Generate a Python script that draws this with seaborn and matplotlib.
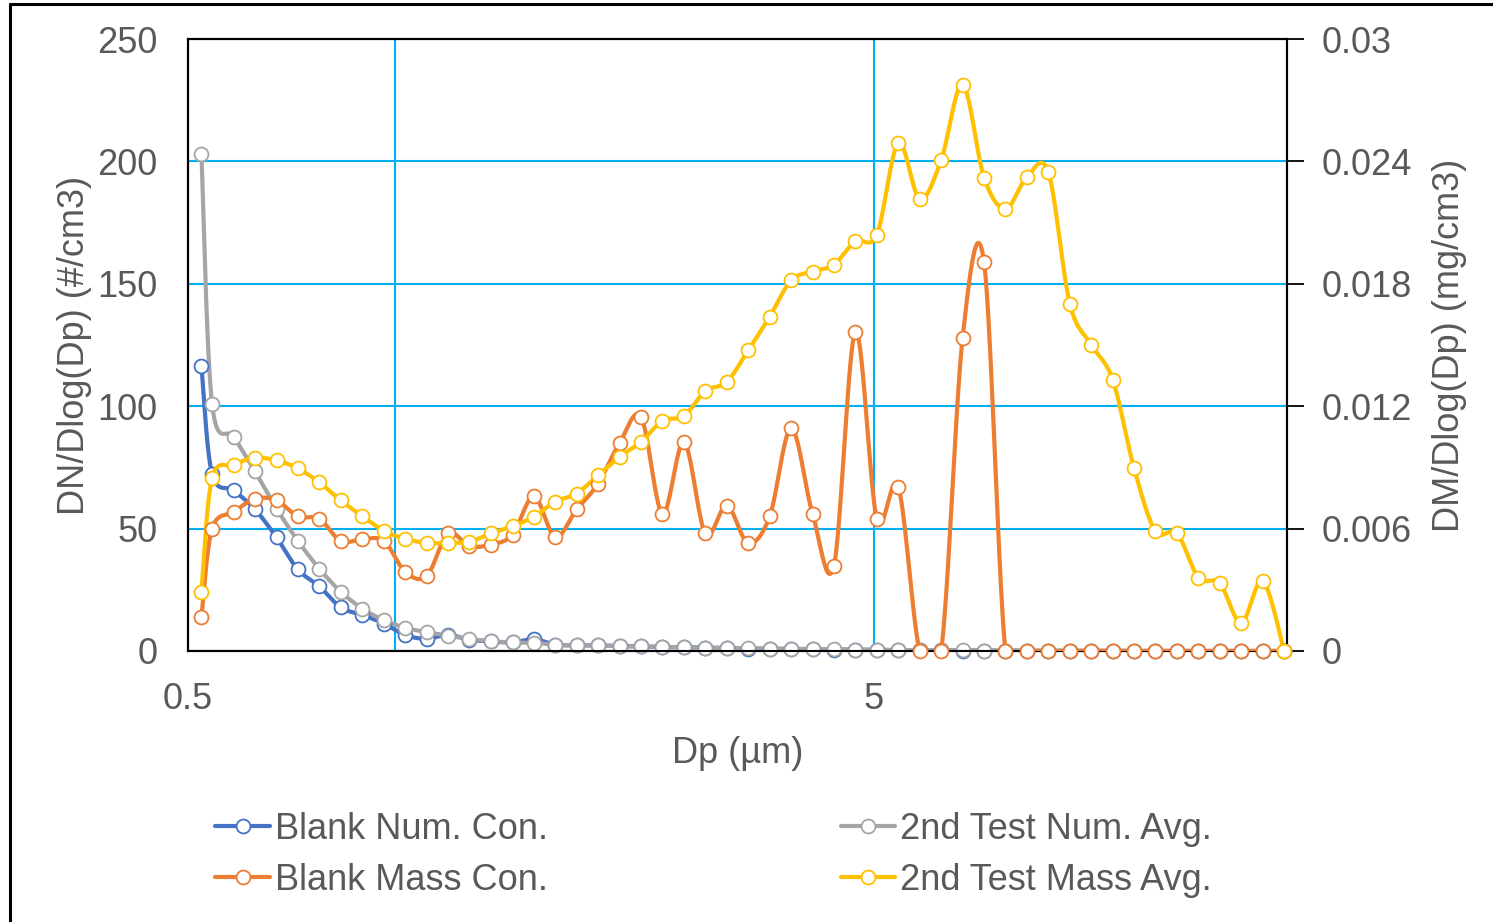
import numpy as np
import pandas as pd
import matplotlib
matplotlib.use("Agg")
import matplotlib.pyplot as plt
from matplotlib.lines import Line2D
import seaborn as sns

# APS channel midpoints (µm)
dp = [0.523, 0.542, 0.583, 0.626, 0.673, 0.723, 0.777, 0.835, 0.898, 0.965,
      1.037, 1.114, 1.197, 1.286, 1.382, 1.486, 1.596, 1.715, 1.843, 1.981,
      2.129, 2.288, 2.458, 2.642, 2.839, 3.051, 3.278, 3.523, 3.786, 4.068,
      4.371, 4.698, 5.048, 5.425, 5.829, 6.264, 6.732, 7.234, 7.774, 8.354,
      8.977, 9.647, 10.37, 11.14, 11.97, 12.86, 13.82, 14.86, 15.96, 17.15,
      18.43, 19.81]

# Number concentration, #/cm3
blank_num = [116.4, 72.3, 65.6, 57.9, 46.4, 33.3, 26.4, 17.8, 14.7, 11.2,
             6.5, 5.0, 6.6, 4.6, 3.9, 3.5, 4.8, 2.6, 2.3, 2.3,
             2.0, 1.9, 1.6, 1.6, 1.4, 1.2, 1.0, 0.9, 0.8, 0.7,
             0.6, 0.5, 0.4, 0.3, 0.3, 0.25, 0.2, 0.2, 0.15, 0.1,
             0.1, 0.08, 0.06, 0.05, 0.04, 0.03, 0.02, 0.02, 0.01, 0.01,
             0.01, 0.0]
test_num = [203.2, 101.0, 87.5, 73.4, 58.2, 45.0, 33.6, 24.2, 17.3, 12.6,
            9.5, 7.7, 6.3, 4.9, 4.0, 3.5, 3.3, 2.6, 2.3, 2.3,
            1.9, 1.9, 1.6, 1.6, 1.3, 1.2, 1.1, 1.0, 0.9, 0.8,
            0.7, 0.6, 0.5, 0.4, 0.35, 0.3, 0.25, 0.2, 0.15, 0.12,
            0.1, 0.08, 0.06, 0.05, 0.04, 0.03, 0.02, 0.02, 0.01, 0.01,
            0.01, 0.0]

# Mass concentration, mg/cm3
blank_mass = [0.00166, 0.00599, 0.00682, 0.00746, 0.00739, 0.00660, 0.00648, 0.00539, 0.00548, 0.00539,
              0.00388, 0.00367, 0.00576, 0.00514, 0.00522, 0.00570, 0.00758, 0.00559, 0.00694, 0.00821,
              0.01020, 0.01147, 0.00673, 0.01024, 0.00576, 0.00713, 0.00529, 0.00660, 0.01091, 0.00673,
              0.00419, 0.01564, 0.00649, 0.00804, 0.0, 0.0, 0.01535, 0.01906, 0.0, 0.0,
              0.0, 0.0, 0.0, 0.0, 0.0, 0.0, 0.0, 0.0, 0.0, 0.0,
              0.0, 0.0]
test_mass = [0.00290, 0.00847, 0.00912, 0.00947, 0.00934, 0.00895, 0.00826, 0.00738, 0.00660, 0.00589,
             0.00550, 0.00530, 0.00530, 0.00536, 0.00576, 0.00612, 0.00658, 0.00732, 0.00772, 0.00862,
             0.00952, 0.01025, 0.01128, 0.01152, 0.01274, 0.01320, 0.01474, 0.01639, 0.01817, 0.01860,
             0.01894, 0.02009, 0.02041, 0.02491, 0.02215, 0.02406, 0.02776, 0.02321, 0.02168, 0.02324,
             0.02347, 0.01703, 0.01501, 0.01330, 0.00896, 0.00587, 0.00578, 0.00359, 0.00332, 0.00138,
             0.00344, 0.0]

labels = ["Blank Num. Con.", "Blank Mass Con.", "2nd Test Num. Avg.", "2nd Test Mass Avg."]
colors = {"Blank Num. Con.": "#4472C4", "Blank Mass Con.": "#ED7D31",
          "2nd Test Num. Avg.": "#A5A5A5", "2nd Test Mass Avg.": "#FFC000"}

left_ticks = [0, 50, 100, 150, 200, 250]
right_ticks = [0, 0.006, 0.012, 0.018, 0.024, 0.03]
right_ticklabels = ["0", "0.006", "0.012", "0.018", "0.024", "0.03"]

TXT = "#595959"
GRID = "#00B0F0"


def smooth(x, y, n=24):
    """Catmull-Rom curve through the points, in log-x space."""
    lx = np.log10(np.asarray(x, float))
    yy = np.asarray(y, float)
    P = np.column_stack([lx, yy])
    P = np.vstack([P[0], P, P[-1]])
    out = []
    t = np.linspace(0, 1, n, endpoint=False)[:, None]
    for i in range(1, len(P) - 2):
        p0, p1, p2, p3 = P[i - 1], P[i], P[i + 1], P[i + 2]
        c1 = p1 + (p2 - p0) / 6.0
        c2 = p2 - (p3 - p1) / 6.0
        seg = ((1 - t) ** 3) * p1 + 3 * ((1 - t) ** 2) * t * c1 + 3 * (1 - t) * t ** 2 * c2 + t ** 3 * p2
        out.append(seg)
    out.append(P[-2][None, :])
    out = np.vstack(out)
    return pd.DataFrame({"x": 10 ** out[:, 0], "y": out[:, 1]})


sns.set_theme(style="white")
plt.rcParams["font.family"] = ["Liberation Sans", "DejaVu Sans"]

fig = plt.figure(figsize=(14.93, 9.22), dpi=100)
W, H = 1493, 922
ax = fig.add_axes([188 / W, 1 - 651 / H, (1287 - 188) / W, (651 - 39) / H])
ax2 = ax.twinx()

FS = 26
LW = 3.0
MS = 10
MEW = 1.3

series_left = [("Blank Num. Con.", blank_num), ("2nd Test Num. Avg.", test_num)]
series_right = [("Blank Mass Con.", blank_mass), ("2nd Test Mass Avg.", test_mass)]

for target, group in [(ax, series_left), (ax2, series_right)]:
    for name, vals in group:
        c = colors[name]
        curve = smooth(dp, vals)
        sns.lineplot(data=curve, x="x", y="y", ax=target, color=c, lw=LW,
                     sort=False, estimator=None, legend=False, zorder=3)
        pts = pd.DataFrame({"x": dp, "y": vals})
        target.plot(pts["x"], pts["y"], ls="none", marker="o", ms=MS,
                    mfc="white", mec=c, mew=MEW, zorder=4, clip_on=False)

for a in (ax, ax2):
    a.set_xscale("log")
    a.set_xlim(0.5, 20)

ax.set_ylim(0, 250)
ax2.set_ylim(0, 0.03)
ax.set_yticks(left_ticks)
ax.set_yticklabels([str(v) for v in left_ticks])
ax2.set_yticks(right_ticks)
ax2.set_yticklabels(right_ticklabels)

ax.set_xticks([0.5, 5])
ax.set_xticklabels(["0.5", "5"])
ax.set_xticks([1], minor=True)
ax.xaxis.set_minor_formatter(plt.NullFormatter())

ax.grid(True, which="both", axis="x", color=GRID, lw=1.5)
ax.grid(True, which="major", axis="y", color=GRID, lw=1.5)
ax.set_axisbelow(True)
ax2.grid(False)

ax.tick_params(axis="y", length=0, pad=22, labelsize=FS, labelcolor=TXT)
ax.tick_params(axis="x", which="both", length=0, pad=22, labelsize=FS, labelcolor=TXT)
ax2.tick_params(axis="y", length=12, width=1.3, color="black", direction="out",
                pad=13, labelsize=FS, labelcolor=TXT, right=True)

for a in (ax, ax2):
    for s in a.spines.values():
        s.set_color("black")
        s.set_linewidth(1.5)
        s.set_visible(True)

ax.set_xlabel("Dp (µm)", fontsize=FS, color=TXT, labelpad=14)
ax.set_ylabel("DN/Dlog(Dp) (#/cm3)", fontsize=FS, color=TXT, labelpad=4)
ax2.set_ylabel("DM/Dlog(Dp) (mg/cm3)", fontsize=FS, color=TXT, labelpad=14)

handles = [Line2D([], [], color=colors[n], lw=LW, marker="o", ms=MS, mfc="white",
                  mec=colors[n], mew=MEW) for n in labels]
fig.legend(handles, labels, loc="center", bbox_to_anchor=(0.478, 1 - 855 / H), ncol=2,
           frameon=False, fontsize=FS, labelcolor=TXT, handlelength=1.5,
           handletextpad=0.15, columnspacing=8.1, labelspacing=0.45)

# chart border
fig.add_artist(Line2D([10 / W, 10 / W], [0, 1 - 4 / H], transform=fig.transFigure,
                      color="black", lw=2.2))
fig.add_artist(Line2D([10 / W, 1], [1 - 4 / H, 1 - 4 / H], transform=fig.transFigure,
                      color="black", lw=2.2))

fig.savefig("out.png", dpi=100, facecolor="white")
